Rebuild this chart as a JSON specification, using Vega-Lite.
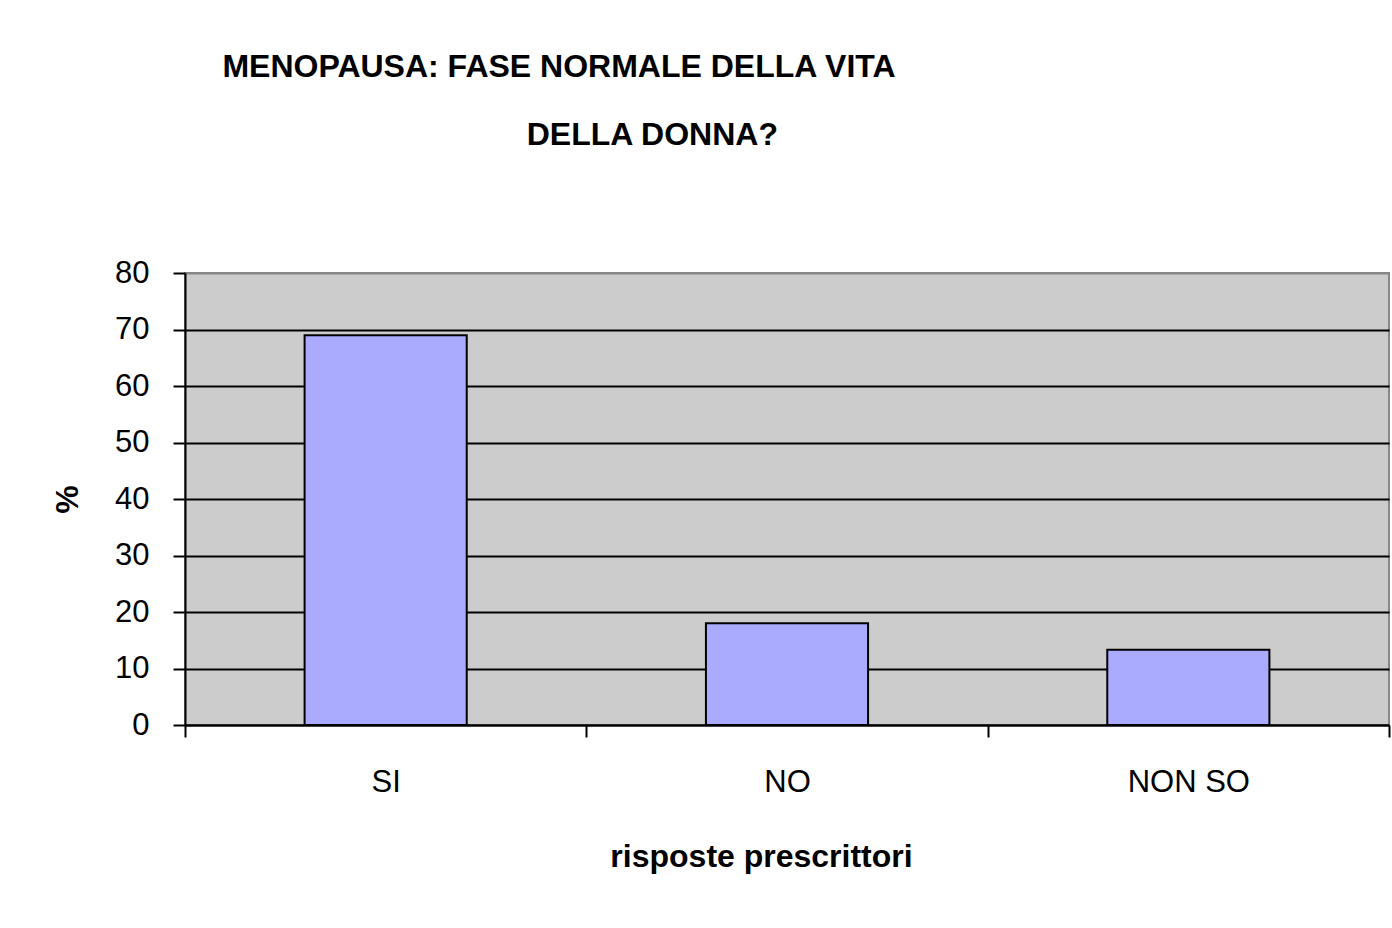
{
  "$schema": "https://vega.github.io/schema/vega-lite/v6.json",
  "autosize": "none",
  "width": 1204,
  "height": 452,
  "padding": {"left": 185, "top": 273, "right": 3, "bottom": 203},
  "background": "white",
  "title": {
    "text": "MENOPAUSA: FASE NORMALE DELLA VITA",
    "subtitle": "\u200b\u00a0\u00a0\u00a0\u00a0\u00a0\u00a0\u00a0\u00a0\u00a0\u00a0\u00a0\u00a0\u00a0\u00a0\u00a0\u00a0\u00a0\u00a0\u00a0\u00a0\u00a0DELLA DONNA?",
    "anchor": "middle",
    "frame": "group",
    "dx": -228,
    "offset": 105,
    "font": "Liberation Sans",
    "fontSize": 32,
    "fontWeight": "bold",
    "color": "black",
    "subtitleFont": "Liberation Sans",
    "subtitleFontSize": 32,
    "subtitleFontWeight": "bold",
    "subtitleColor": "black",
    "subtitlePadding": 36
  },
  "data": {
    "values": [
      {"risposta": "SI", "percent": 69},
      {"risposta": "NO", "percent": 18},
      {"risposta": "NON SO", "percent": 13.3}
    ]
  },
  "mark": {"type": "bar", "fill": "#AAAAFF", "stroke": "black", "strokeWidth": 2},
  "encoding": {
    "x": {
      "field": "risposta",
      "type": "nominal",
      "sort": ["SI", "NO", "NON SO"],
      "scale": {"paddingInner": 0.596, "paddingOuter": 0.298},
      "axis": {
        "title": "risposte prescrittori",
        "labelAngle": 0,
        "bandPosition": 2.476,
        "tickExtra": true,
        "tickOffset": -119.6,
        "labelOffset": 119.6,
        "tickSize": 12,
        "tickWidth": 2,
        "tickColor": "black",
        "domainColor": "black",
        "domainWidth": 2,
        "labelPadding": 30,
        "labelFont": "Liberation Sans",
        "labelFontSize": 31,
        "labelColor": "black",
        "titleFont": "Liberation Sans",
        "titleFontSize": 32,
        "titleFontWeight": "bold",
        "titleColor": "black",
        "titlePadding": 44,
        "titleX": 576
      }
    },
    "y": {
      "field": "percent",
      "type": "quantitative",
      "scale": {"domain": [0, 80], "nice": false},
      "axis": {
        "title": "%",
        "values": [0, 10, 20, 30, 40, 50, 60, 70, 80],
        "grid": true,
        "gridColor": {"condition": {"test": "datum.value === 80", "value": "#888888"}, "value": "black"},
        "gridWidth": 2,
        "gridOpacity": 1,
        "tickSize": 12,
        "tickWidth": 2,
        "tickColor": "black",
        "domainColor": "black",
        "domainWidth": 2,
        "labelPadding": 24,
        "labelFont": "Liberation Sans",
        "labelFontSize": 31,
        "labelColor": "black",
        "titleFont": "Liberation Sans",
        "titleFontSize": 32,
        "titleFontWeight": "bold",
        "titleColor": "black",
        "titlePadding": 30
      }
    }
  },
  "config": {
    "view": {"fill": "#CCCCCC", "stroke": "#888888", "strokeWidth": 2}
  }
}
